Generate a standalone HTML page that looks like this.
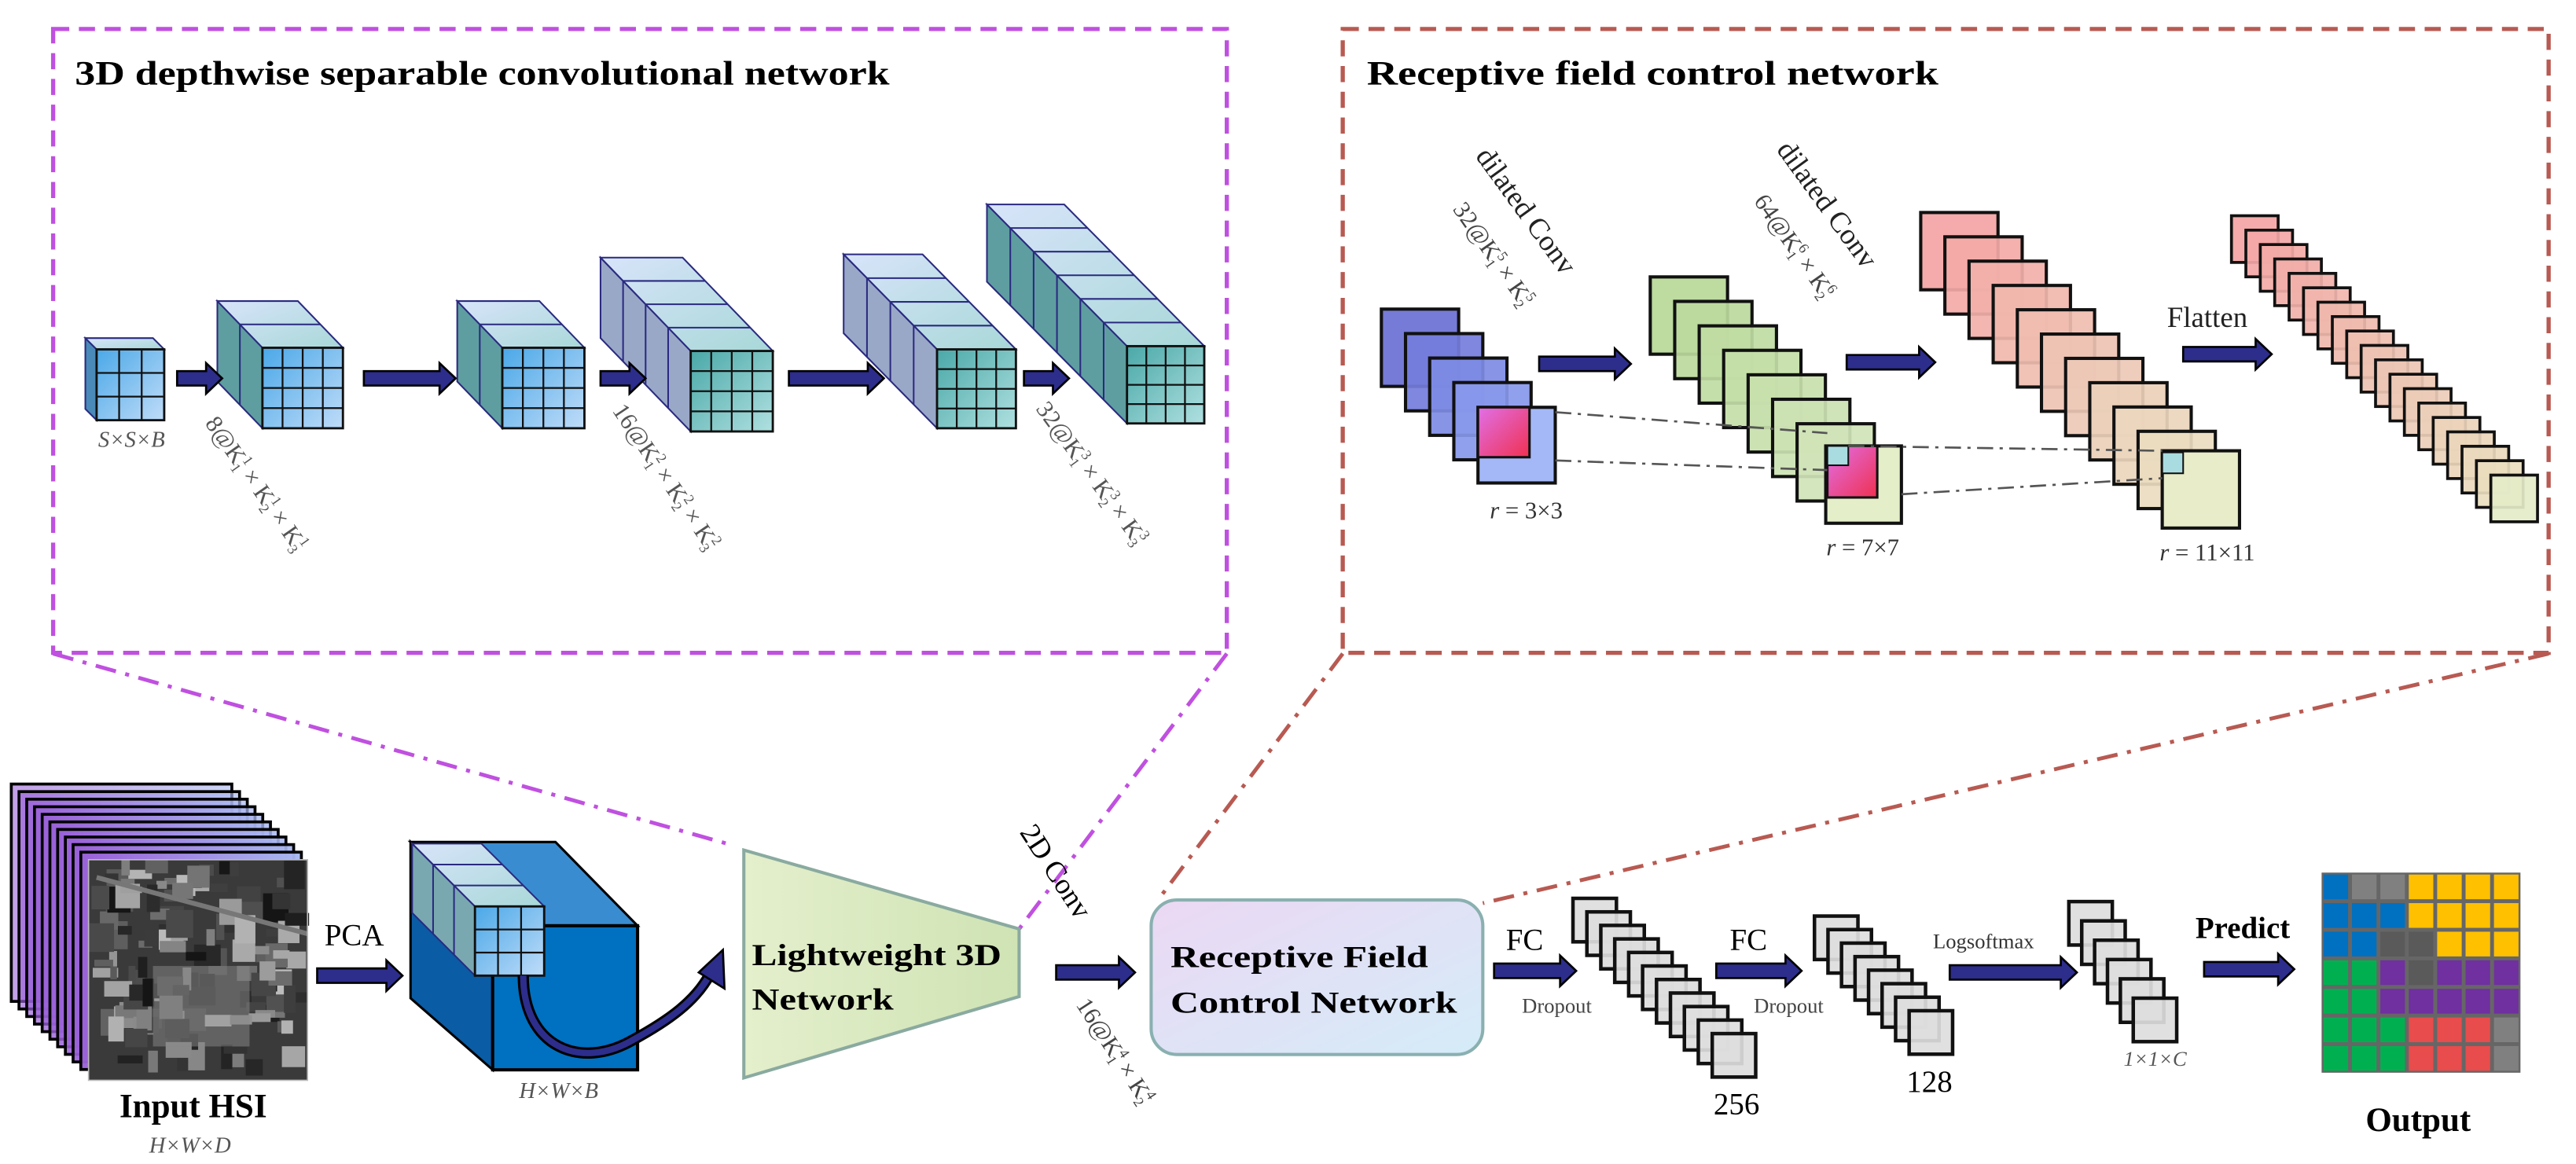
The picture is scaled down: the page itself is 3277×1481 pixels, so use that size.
<!DOCTYPE html>
<html><head><meta charset="utf-8"><style>
html,body{margin:0;padding:0;background:#fff;}
svg{display:block;}
text{font-family:"Liberation Serif",serif;}
.b{font-weight:bold;}
.it{font-style:italic;fill:#555;}
</style></head><body>
<svg id="s" xmlns="http://www.w3.org/2000/svg" width="3277" height="1481" viewBox="0 0 1600 723" preserveAspectRatio="none">
<defs>
<linearGradient id="topg" x1="0" y1="0" x2="1" y2="1"><stop offset="0" stop-color="#d8e4fa"/><stop offset="1" stop-color="#a8d8d8"/></linearGradient>
<linearGradient id="fblue" x1="0" y1="0" x2="1" y2="1"><stop offset="0" stop-color="#4aa8e8"/><stop offset="1" stop-color="#c0dcf8"/></linearGradient>
<linearGradient id="fteal" x1="0" y1="0" x2="1" y2="1"><stop offset="0" stop-color="#4aa8a8"/><stop offset="1" stop-color="#b0e0e0"/></linearGradient>
<linearGradient id="sheet" x1="0" y1="0" x2="1" y2="0"><stop offset="0" stop-color="#9a60d8"/><stop offset="1" stop-color="#a8b8f0"/></linearGradient>
<linearGradient id="trap" x1="0" y1="0" x2="1" y2="0"><stop offset="0" stop-color="#e4efcc"/><stop offset="1" stop-color="#cfe3b4"/></linearGradient>
<linearGradient id="rr" x1="0" y1="0" x2="1" y2="1"><stop offset="0" stop-color="#ecd8f4"/><stop offset="1" stop-color="#d4ecf8"/></linearGradient>
<linearGradient id="pinkr" x1="0" y1="0" x2="1" y2="1"><stop offset="0" stop-color="#e070e8"/><stop offset="1" stop-color="#f03050"/></linearGradient>
</defs>

<!-- dashed frames -->
<rect x="33" y="18" width="729" height="387.5" fill="none" stroke="#c050e0" stroke-width="2.6" stroke-dasharray="10 6"/>
<rect x="834" y="18" width="749" height="387.5" fill="none" stroke="#b85a52" stroke-width="2.6" stroke-dasharray="10 6"/>
<g fill="none" stroke-width="2.4" stroke-dasharray="13 6 2.5 6">
<line x1="33" y1="406" x2="455" y2="525" stroke="#c050e0"/>
<line x1="762" y1="406" x2="633" y2="577" stroke="#c050e0"/>
<line x1="834" y1="406" x2="720" y2="558" stroke="#b85a52"/>
<line x1="1583" y1="406" x2="921" y2="561" stroke="#b85a52"/>
</g>

<text x="46.5" y="52.4" font-size="21" class="b" textLength="506" lengthAdjust="spacingAndGlyphs">3D depthwise separable convolutional network</text>
<text x="849" y="52.4" font-size="21" class="b" textLength="355" lengthAdjust="spacingAndGlyphs">Receptive field control network</text>

<!-- blue box (PCA output) -->
<polygon points="255,523 306,575 306,664.5 255,620" fill="#0a5ca4" stroke="#000" stroke-width="1.5"/>
<polygon points="255,523 345,523 396,575 306,575" fill="#3a8cd0" stroke="#000" stroke-width="1.5"/>
<rect x="306" y="575" width="90" height="89.5" fill="#0070c0" stroke="#000" stroke-width="2"/>

<!-- trapezoid -->
<polygon points="462,528 633,577 633,619 462,669.5" fill="url(#trap)" stroke="#8aaaa0" stroke-width="2"/>

<g id="g"></g>

<text x="467" y="599.5" font-size="19" class="b" textLength="155" lengthAdjust="spacingAndGlyphs">Lightweight 3D</text>
<text x="467" y="627" font-size="19" class="b" textLength="88" lengthAdjust="spacingAndGlyphs">Network</text>

<!-- purple labels -->
<text x="81.7" y="277.5" font-size="14" class="it" text-anchor="middle">S×S×B</text>
<g transform="translate(127,263) rotate(55)"><text font-size="15" fill="#555">8@K<tspan font-size="9" dy="-6">1</tspan><tspan font-size="9" dx="-5" dy="9">1</tspan><tspan dy="-3"> × K</tspan><tspan font-size="9" dy="-6">1</tspan><tspan font-size="9" dx="-5" dy="9">2</tspan><tspan dy="-3"> × K</tspan><tspan font-size="9" dy="-6">1</tspan><tspan font-size="9" dx="-5" dy="9">3</tspan></text></g>
<g transform="translate(380,255) rotate(56)"><text font-size="15" fill="#555">16@K<tspan font-size="9" dy="-6">2</tspan><tspan font-size="9" dx="-5" dy="9">1</tspan><tspan dy="-3"> × K</tspan><tspan font-size="9" dy="-6">2</tspan><tspan font-size="9" dx="-5" dy="9">2</tspan><tspan dy="-3"> × K</tspan><tspan font-size="9" dy="-6">2</tspan><tspan font-size="9" dx="-5" dy="9">3</tspan></text></g>
<g transform="translate(643,254) rotate(54)"><text font-size="15" fill="#555">32@K<tspan font-size="9" dy="-6">3</tspan><tspan font-size="9" dx="-5" dy="9">1</tspan><tspan dy="-3"> × K</tspan><tspan font-size="9" dy="-6">3</tspan><tspan font-size="9" dx="-5" dy="9">2</tspan><tspan dy="-3"> × K</tspan><tspan font-size="9" dy="-6">3</tspan><tspan font-size="9" dx="-5" dy="9">3</tspan></text></g>

<!-- red labels -->
<g transform="translate(916,97) rotate(54)"><text font-size="18" fill="#222">dilated Conv</text></g>
<g transform="translate(902,130) rotate(55)"><text font-size="15" fill="#444">32@K<tspan font-size="9" dy="-6">5</tspan><tspan font-size="9" dx="-5" dy="9">1</tspan><tspan dy="-3"> × K</tspan><tspan font-size="9" dy="-6">5</tspan><tspan font-size="9" dx="-5" dy="9">2</tspan></text></g>
<g transform="translate(1103,93) rotate(54)"><text font-size="18" fill="#222">dilated Conv</text></g>
<g transform="translate(1089,125) rotate(55)"><text font-size="15" fill="#444">64@K<tspan font-size="9" dy="-6">6</tspan><tspan font-size="9" dx="-5" dy="9">1</tspan><tspan dy="-3"> × K</tspan><tspan font-size="9" dy="-6">6</tspan><tspan font-size="9" dx="-5" dy="9">2</tspan></text></g>
<text x="948" y="322" font-size="15" fill="#333" text-anchor="middle"><tspan font-style="italic">r</tspan> = 3×3</text>
<text x="1157" y="345" font-size="15" fill="#333" text-anchor="middle"><tspan font-style="italic">r</tspan> = 7×7</text>
<text x="1371" y="348" font-size="15" fill="#333" text-anchor="middle"><tspan font-style="italic">r</tspan> = 11×11</text>
<text x="1371" y="203" font-size="18" fill="#222" text-anchor="middle">Flatten</text>

<rect x="715" y="559" width="206" height="96" rx="16" fill="url(#rr)" stroke="#8ab0b0" stroke-width="2"/>
<text x="727" y="600.6" font-size="19" class="b" textLength="160" lengthAdjust="spacingAndGlyphs">Receptive Field</text>
<text x="727" y="629" font-size="19" class="b" textLength="178" lengthAdjust="spacingAndGlyphs">Control Network</text>

<text x="220" y="587" font-size="19" text-anchor="middle">PCA</text>
<text x="120" y="694" font-size="21" class="b" text-anchor="middle">Input HSI</text>
<text x="118" y="716" font-size="14" class="it" text-anchor="middle">H×W×D</text>
<text x="347" y="682" font-size="14" class="it" text-anchor="middle">H×W×B</text>
<g transform="translate(633,517) rotate(57)"><text font-size="18">2D Conv</text></g>
<g transform="translate(668,624) rotate(57)"><text font-size="15" fill="#444">16@K<tspan font-size="9" dy="-6">4</tspan><tspan font-size="9" dx="-5" dy="9">1</tspan><tspan dy="-3"> × K</tspan><tspan font-size="9" dy="-6">4</tspan><tspan font-size="9" dx="-5" dy="9">2</tspan></text></g>

<text x="947" y="590" font-size="19" text-anchor="middle">FC</text>
<text x="967" y="629" font-size="13" fill="#444" text-anchor="middle">Dropout</text>
<text x="1086" y="590" font-size="19" text-anchor="middle">FC</text>
<text x="1111" y="629" font-size="13" fill="#444" text-anchor="middle">Dropout</text>
<text x="1078.6" y="692" font-size="19" text-anchor="middle">256</text>
<text x="1198.4" y="678" font-size="19" text-anchor="middle">128</text>
<text x="1232" y="589" font-size="13" fill="#333" text-anchor="middle">Logsoftmax</text>
<text x="1338.6" y="662" font-size="13" class="it" text-anchor="middle">1×1×C</text>
<text x="1393" y="582.6" font-size="19" class="b" text-anchor="middle">Predict</text>
<text x="1502" y="702.4" font-size="21" class="b" text-anchor="middle">Output</text>
</svg>
<script>
(function(){
var NS='http://www.w3.org/2000/svg';
var G=document.getElementById('g');
function el(t,a,p){var e=document.createElementNS(NS,t);for(var k in a)e.setAttribute(k,a[k]);(p||G).appendChild(e);return e;}
function arrow(x1,x2,y){var h=x2-10;el('polygon',{points:[x1,y-4.5,h,y-4.5,h,y-9.5,x2,y,h,y+9.5,h,y+4.5,x1,y+4.5].join(' '),fill:'#2d2d8c',stroke:'#000','stroke-width':1.3});}
function cuboid(fx,fy,w,h,n,dx,dy,side,front,cols){
 var bx=fx+n*dx,by=fy+n*dy;
 el('polygon',{points:[bx,by,fx,fy,fx,fy+h,bx,by+h].join(' '),fill:side,stroke:'#2a2a80','stroke-width':1});
 el('polygon',{points:[bx,by,bx+w,by,fx+w,fy,fx,fy].join(' '),fill:'url(#topg)',stroke:'#2a2a80','stroke-width':1});
 for(var i=1;i<n;i++){var x=fx+i*dx,y=fy+i*dy;
  el('line',{x1:x,y1:y,x2:x+w,y2:y,stroke:'#2a2a80','stroke-width':1});
  el('line',{x1:x,y1:y,x2:x,y2:y+h,stroke:'#2a2a80','stroke-width':1});}
 el('rect',{x:fx,y:fy,width:w,height:h,fill:front,stroke:'#111','stroke-width':1.4});
 for(var j=1;j<cols;j++){el('line',{x1:fx+j*w/cols,y1:fy,x2:fx+j*w/cols,y2:fy+h,stroke:'#111','stroke-width':1.1});
  el('line',{x1:fx,y1:fy+j*h/cols,x2:fx+w,y2:fy+j*h/cols,stroke:'#111','stroke-width':1.1});}
}
cuboid(60,217,42,44,1,-7,-7,'#4a8ab8','url(#fblue)',3);
cuboid(163,216,50,50,2,-14,-14.5,'#5f9ea0','url(#fblue)',4);
cuboid(312,216,51,50,2,-14,-14.5,'#5f9ea0','url(#fblue)',4);
cuboid(429,218,51,50,4,-14,-14.5,'#9aa8c8','url(#fteal)',4);
cuboid(582,217,49,49,4,-14.5,-14.75,'#9aa8c8','url(#fteal)',4);
cuboid(700,215,48,48,6,-14.5,-14.67,'#5f9ea0','url(#fteal)',4);
arrow(110,138,235);arrow(226,283,235);arrow(373,401,235);arrow(490,549,235);arrow(636,664,235);
function mix(a,b,t){var r='#';for(var i=0;i<3;i++){var x=parseInt(a.substr(1+2*i,2),16),y=parseInt(b.substr(1+2*i,2),16);var v=Math.round(x+(y-x)*t).toString(16);r+=(v.length<2?'0':'')+v;}return r;}
function stack(x0,y0,w,h,n,dx,dy,c1,c2,sw,last){
 for(var i=0;i<n;i++){var c=(i==n-1&&last)?last:mix(c1,c2,n>1?i/(n-1):0);
  el('rect',{x:x0+i*dx,y:y0+i*dy,width:w,height:h,fill:c,'fill-opacity':0.92,stroke:'#111','stroke-width':sw});}
}
stack(858,192,48,48,4,15,15.2,'#6a70d4','#8898ec',2);
el('rect',{x:918,y:253,width:48,height:47,fill:'#a4b8f8',stroke:'#111','stroke-width':2});
el('rect',{x:918,y:253,width:32,height:31,fill:'url(#pinkr)',stroke:'#111','stroke-width':1.5});
arrow(956,1013,226);
stack(1025,172,48,48,7,15.2,15.2,'#b8d898','#d0e4b8',2);
el('rect',{x:1134,y:277,width:47,height:48,fill:'#e4eec8',stroke:'#111','stroke-width':2});
el('rect',{x:1135,y:277,width:31,height:32,fill:'url(#pinkr)',stroke:'#111','stroke-width':1.5});
el('rect',{x:1135,y:277,width:13,height:12,fill:'#a8dce0',stroke:'#111','stroke-width':1});
arrow(1147,1202,225);
stack(1193,132,48,48,10,15,15.1,'#f4a4a4','#eadcc0',2);
el('rect',{x:1343,y:280,width:48,height:48,fill:'#e8ecc8',stroke:'#111','stroke-width':2});
el('rect',{x:1343,y:281,width:13,height:13,fill:'#a8dce0',stroke:'#111','stroke-width':1});
arrow(1356,1411,220);
stack(1386,134,29,29,19,8.95,8.95,'#f4a4a4','#e8e0c0',1.8,'#e4ecc8');
var dd={stroke:'#555','stroke-width':1.3,'stroke-dasharray':'10 4 2 4',fill:'none'};
function L(a,b,c,d){var o={x1:a,y1:b,x2:c,y2:d};for(var k in dd)o[k]=dd[k];el('line',o);}
L(966,256,1135,269);L(966,286,1135,292);L(1148,277,1343,280);L(1181,307,1343,297);
for(var i=0;i<10;i++){el('rect',{x:7+i*4.8,y:487+i*4.7,width:137,height:135,fill:'url(#sheet)','fill-opacity':0.6+i*0.04,stroke:'#000','stroke-width':1.8});}
var ig=el('g',{});
el('rect',{x:55,y:534,width:136,height:137,fill:'#3a3a3a'},ig);
var seed=7;function rnd(){seed=(seed*9301+49297)%233280;return seed/233280;}
for(var i=0;i<140;i++){var x=55+rnd()*124,y=534+rnd()*125,g=Math.round(20+rnd()*170);
 el('rect',{x:x,y:y,width:4+rnd()*14,height:4+rnd()*14,fill:'rgb('+g+','+g+','+g+')'},ig);}
el('rect',{x:95,y:600,width:60,height:50,fill:'#8a8a8a','fill-opacity':0.5},ig);
el('line',{x1:60,y1:545,x2:191,y2:580,stroke:'#777','stroke-width':3},ig);
el('rect',{x:55,y:534,width:136,height:137,fill:'none',stroke:'#bbb','stroke-width':0.8},ig);
arrow(197,250,606);
cuboid(295,563,43,43,3,-13,-13,'#7aa8b0','url(#fblue)',3);
el('path',{d:'M325,606 C325,650 360,665 393,646 C415,634 432,622 441,605',fill:'none',stroke:'#000','stroke-width':7});
el('path',{d:'M325,606 C325,650 360,665 393,646 C415,634 432,622 441,605',fill:'none',stroke:'#2d2d8c','stroke-width':4});
el('polygon',{points:'449,590 450,614 434,604',fill:'#2d2d8c',stroke:'#000','stroke-width':1.3});
arrow(656,705,604);
arrow(928,979,603);
stack(977,558,27,27,11,8.65,8.4,'#dddddd','#dddddd',2.2);
arrow(1066,1119,603);
stack(1127,569,27,27,8,8.4,8.4,'#dddddd','#dddddd',2.2);
arrow(1211,1290,604);
stack(1285,560,27,27,6,8,12,'#dddddd','#dddddd',2.2);
arrow(1369,1425,602);
var C={b:'#0070c0',g:'#808080',d:'#5a5a5a',y:'#ffc000',n:'#00b050',p:'#7030a0',r:'#e84c4c'};
var rows=['bggyyyy','bbbyyyy','bbddyyy','nnpdppp','nnppppp','nnnrrrg','nnnrrrg'];
var x0=1442,y0=542,cw=(1565.5-1442)/7,ch=(666.3-542)/7;
el('rect',{x:x0,y:y0,width:cw*7,height:ch*7,fill:'#666'});
for(var r=0;r<7;r++)for(var c=0;c<7;c++){el('rect',{x:x0+c*cw+1.2,y:y0+r*ch+1.2,width:cw-2.4,height:ch-2.4,fill:C[rows[r][c]]});}
})();
</script>
</body></html>
